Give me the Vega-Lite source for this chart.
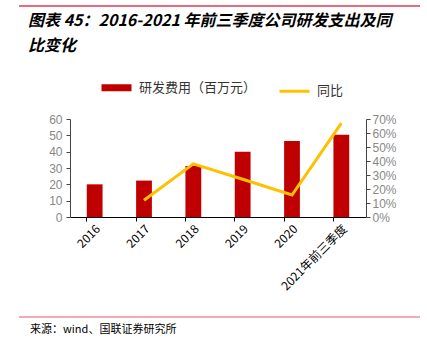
{
  "$schema": "https://vega.github.io/schema/vega-lite/v6.json",
  "autosize": "none",
  "width": 296,
  "height": 98,
  "padding": {"left": 70, "top": 119, "right": 61, "bottom": 133},
  "background": "white",
  "config": {"view": {"stroke": null}, "font": "Liberation Sans"},
  "datasets": {
    "main": [
      {"year": "2016", "rd": 20, "yoy": null},
      {"year": "2017", "rd": 22.3, "yoy": 0.12},
      {"year": "2018", "rd": 31.3, "yoy": 0.38},
      {"year": "2019", "rd": 40, "yoy": 0.27},
      {"year": "2020", "rd": 46.5, "yoy": 0.157},
      {"year": "2021年前三季度", "rd": 50.3, "yoy": 0.67}
    ]
  },
  "data": {"name": "main"},
  "encoding": {
    "x": {
      "field": "year", "type": "nominal", "sort": null,
      "scale": {"paddingInner": 0.68, "paddingOuter": 0.34},
      "axis": {
        "title": null, "labelAngle": -45, "labelFontSize": 12, "labelColor": "#000",
        "domainColor": "#000", "tickColor": "#000", "tickSize": 4,
        "bandPosition": 0, "labelFont": "Noto Sans CJK SC", "labelPadding": 2
      }
    }
  },
  "layer": [
    {
      "mark": {"type": "bar"},
      "encoding": {
        "y": {
          "field": "rd", "type": "quantitative",
          "scale": {"domain": [0, 60]},
          "axis": {
            "title": null, "values": [0, 10, 20, 30, 40, 50, 60], "grid": false,
            "labelColor": "#888", "labelFontSize": 12, "domainColor": "#444",
            "tickColor": "#444", "tickSize": 4, "labelPadding": 4
          }
        },
        "color": {
          "datum": "研发费用（百万元）", "type": "nominal",
          "scale": {"domain": ["研发费用（百万元）", "同比"], "range": ["#c00000", "#ffc000"]},
          "legend": {
            "title": null, "orient": "none", "direction": "horizontal",
            "legendX": 40, "legendY": -38, "symbolType": "stroke",
            "symbolSize": 900, "labelFont": "Noto Sans CJK SC",
            "labelFontSize": 13, "labelColor": "#333", "columnPadding": 16, "labelOffset": 16,
            "encode": {
              "symbols": {
                "update": {
                  "stroke": {"signal": "datum.value === '同比' ? '#ffc000' : '#c00000'"},
                  "strokeWidth": {"signal": "datum.value === '同比' ? 3 : 7"}
                }
              }
            }
          }
        }
      }
    },
    {
      "mark": {"type": "line", "strokeWidth": 3},
      "transform": [{"filter": "datum.yoy != null"}],
      "encoding": {
        "y": {
          "field": "yoy", "type": "quantitative",
          "scale": {"domain": [0, 0.7]},
          "axis": {
            "title": null, "orient": "right", "format": ".0%", "grid": false,
            "values": [0, 0.1, 0.2, 0.3, 0.4, 0.5, 0.6, 0.7],
            "labelColor": "#888", "labelFontSize": 12, "domainColor": "#444",
            "tickColor": "#444", "tickSize": 4, "labelPadding": 2
          }
        },
        "color": {"datum": "同比", "type": "nominal"}
      }
    },
    {
      "data": {"values": [{"t": "图表 45：2016-2021 年前三季度公司研发支出及同"}]},
      "mark": {"type": "text", "align": "left", "baseline": "middle", "fontSize": 16, "fontWeight": "bold", "fontStyle": "italic", "font": "Noto Sans CJK SC", "color": "#000"},
      "encoding": {"x": {"value": -42}, "y": {"value": -98}, "text": {"field": "t"}}
    },
    {
      "data": {"values": [{"t": "比变化"}]},
      "mark": {"type": "text", "align": "left", "baseline": "middle", "fontSize": 16, "fontWeight": "bold", "fontStyle": "italic", "font": "Noto Sans CJK SC", "color": "#000"},
      "encoding": {"x": {"value": -42}, "y": {"value": -73}, "text": {"field": "t"}}
    },
    {
      "data": {"values": [{"t": "来源：wind、国联证券研究所"}]},
      "mark": {"type": "text", "align": "left", "baseline": "middle", "fontSize": 11, "font": "Noto Sans CJK SC", "color": "#000"},
      "encoding": {"x": {"value": -40}, "y": {"value": 211}, "text": {"field": "t"}}
    },
    {
      "data": {"values": [{"a": 1}]},
      "mark": {"type": "rule", "color": "#e03a55", "strokeWidth": 1.5},
      "encoding": {"x": {"value": -51}, "x2": {"value": 350}, "y": {"value": -113}}
    },
    {
      "data": {"values": [{"a": 1}]},
      "mark": {"type": "rule", "color": "#e890a0", "strokeWidth": 1.5},
      "encoding": {"x": {"value": -51}, "x2": {"value": 350}, "y": {"value": 198}}
    }
  ],
  "resolve": {"scale": {"y": "independent"}}
}
